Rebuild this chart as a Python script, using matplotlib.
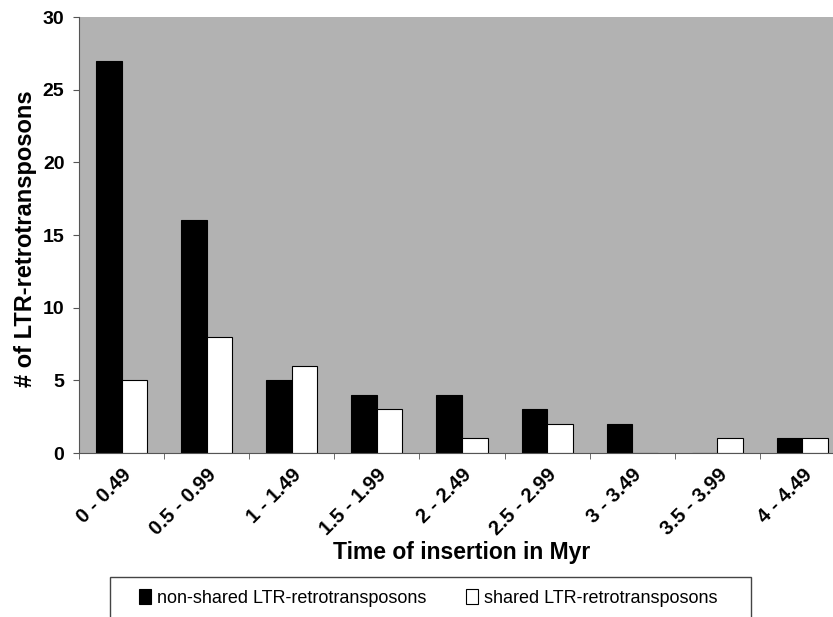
import numpy as np
import matplotlib
matplotlib.use("Agg")
import matplotlib.pyplot as plt
from matplotlib.patches import Rectangle

plt.rcParams['font.family'] = ['Liberation Sans', 'DejaVu Sans']

bins = ["0 - 0.49", "0.5 - 0.99", "1 - 1.49", "1.5 - 1.99", "2 - 2.49",
        "2.5 - 2.99", "3 - 3.49", "3.5 - 3.99", "4 - 4.49"]
non_shared = [27, 16, 5, 4, 4, 3, 2, 0, 1]
shared = [5, 8, 6, 3, 1, 2, 0, 1, 1]

fig = plt.figure(figsize=(8.33, 6.17), dpi=100)
# axes runs a bit past the right edge like in the original picture
ax = fig.add_axes([79/833, 1-453/617, (845-79)/833, (453-17)/617])
ax.set_facecolor('#b2b2b2')

x = np.arange(len(bins))
w = 0.3
ax.bar(x - w/2, non_shared, w, color='black', edgecolor='black', linewidth=0.8,
       label='non-shared LTR-retrotransposons')
ax.bar(x + w/2, shared, w, color='white', edgecolor='black', linewidth=0.8,
       label='shared LTR-retrotransposons')

ax.set_xlim(-0.5, len(bins) - 0.5)
ax.set_ylim(0, 30)
ax.set_yticks(range(0, 31, 5))
ax.set_xticks(x)
ax.set_xticklabels(bins, rotation=45, ha='right', rotation_mode='anchor',
                   fontsize=14.5, fontweight='bold')
ax.set_xticks(np.arange(-0.5, len(bins)), minor=True)
ax.tick_params(axis='x', which='major', length=0, pad=9)
ax.tick_params(axis='x', which='minor', length=4.5, color='#555555', direction='out')
ax.tick_params(axis='y', length=4.5, color='#555555', labelsize=14, pad=6)
for lab in ax.get_yticklabels():
    lab.set_fontweight('bold')

for s in ['top', 'right']:
    ax.spines[s].set_visible(False)
ax.spines['left'].set_color('#555555')
ax.spines['bottom'].set_color('#555555')

ax.set_ylabel('# of LTR-retrotransposons', fontsize=17, fontweight='bold')
ax.yaxis.set_label_coords((37-79)/766, (453-239)/436)
fig.text(462/833, 1-553/617, 'Time of insertion in Myr', fontsize=16.5, fontweight='bold',
         ha='center', va='center')

# legend box reaching down past the bottom edge
box = Rectangle((110/833, -0.05), (751-110)/833, 0.05 + (617-577)/617,
                transform=fig.transFigure, facecolor='white', edgecolor='#444444',
                linewidth=1, clip_on=False)
fig.patches.append(box)
fig.legend(loc='center', bbox_to_anchor=(428/833, 1-598/617), ncol=2, frameon=False,
           fontsize=13, handlelength=0.7, handleheight=0.9, handletextpad=0.3,
           columnspacing=2.2, borderpad=0)

fig.savefig('out.png', dpi=100)
